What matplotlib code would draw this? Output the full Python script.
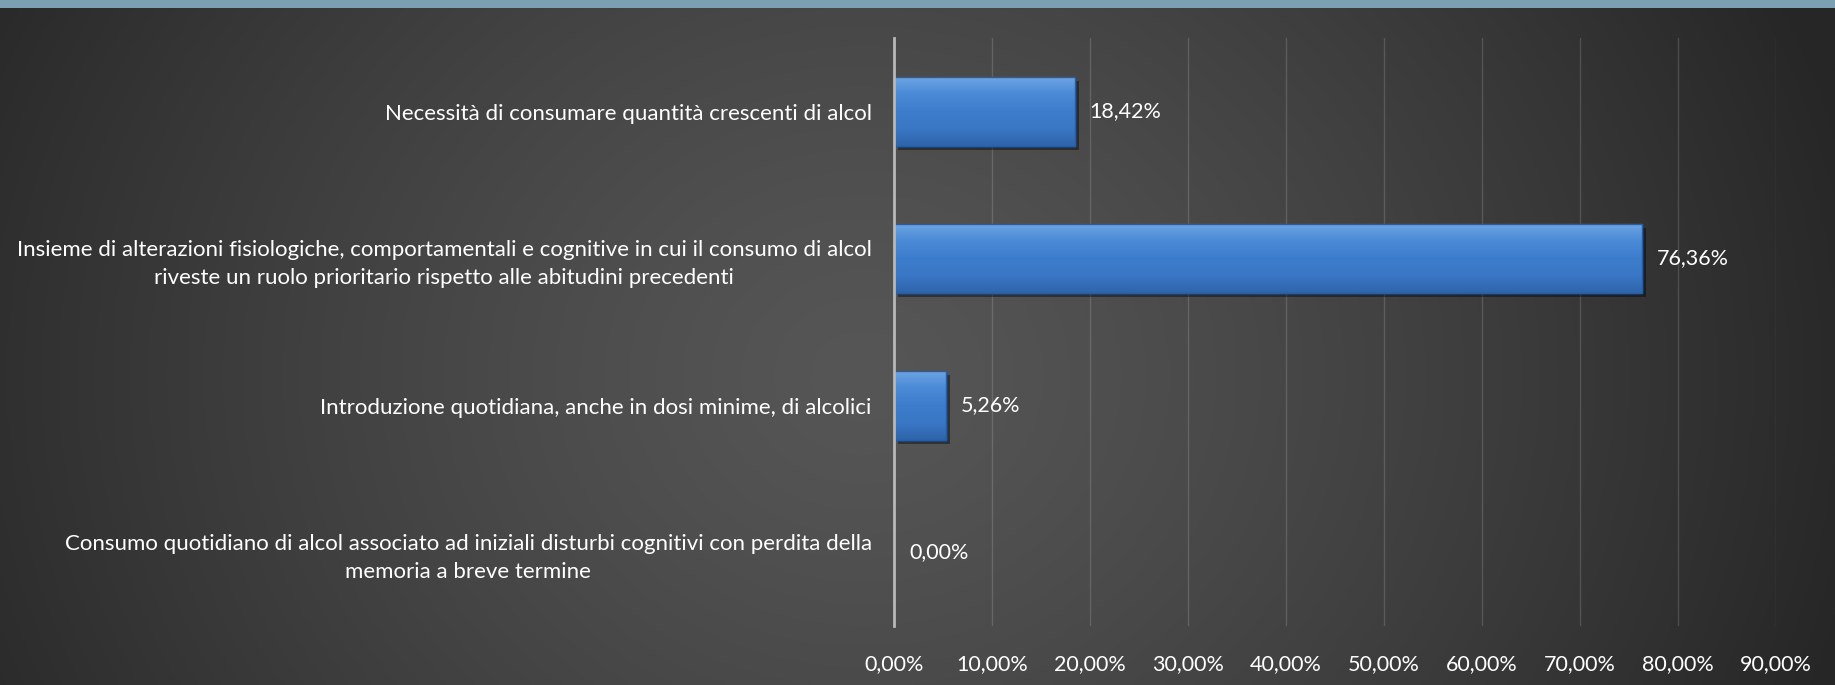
import numpy as np
import matplotlib
matplotlib.use("Agg")
import matplotlib.pyplot as plt
from matplotlib import patheffects as pe
from matplotlib.colors import LinearSegmentedColormap

categories = [
    "Necessità di consumare quantità crescenti di alcol",
    "Insieme di alterazioni fisiologiche, comportamentali e cognitive in cui il consumo di alcol\nriveste un ruolo prioritario rispetto alle abitudini precedenti",
    "Introduzione quotidiana, anche in dosi minime, di alcolici",
    "Consumo quotidiano di alcol associato ad iniziali disturbi cognitivi con perdita della\nmemoria a breve termine",
]
values = [0.1842, 0.7636, 0.0526, 0.0]
value_labels = ["18,42%", "76,36%", "5,26%", "0,00%"]
xticks = [0.0, 0.1, 0.2, 0.3, 0.4, 0.5, 0.6, 0.7, 0.8, 0.9]
xtick_labels = ["0,00%", "10,00%", "20,00%", "30,00%", "40,00%", "50,00%",
                "60,00%", "70,00%", "80,00%", "90,00%"]

W, H, DPI = 1835, 685, 100
fig = plt.figure(figsize=(W / DPI, H / DPI), dpi=DPI)
plt.rcParams['font.family'] = ['Lato', 'DejaVu Sans']

# background gradient
bg = fig.add_axes([0, 0, 1, 1], zorder=-10)
yy, xx = np.mgrid[0:1:300j, 0:1:800j]
r = np.sqrt(((xx - 0.47) / 0.55) ** 2 + ((yy - 0.45) / 1.3) ** 2)
v = np.clip(0x56 - (0x56 - 0x27) * r ** 1.3, 0x26, 0x56) / 255.0
img = np.dstack([v, v, v])
bg.imshow(img, extent=[0, 1, 0, 1], aspect='auto', origin='lower')
# top strip
bg.add_patch(plt.Rectangle((0, 1 - 8 / H), 1, 8 / H, color='#7ba0b1', lw=0))
bg.set_xlim(0, 1); bg.set_ylim(0, 1)
bg.axis('off')

ax = fig.add_axes([894 / W, 1 - 626 / H, (1776 - 894) / W, (626 - 38) / H])
ax.patch.set_alpha(0)
y = np.arange(len(categories))
bars = ax.barh(y, values, height=0.47, color='#3a78c6', edgecolor='#2b5c9c',
               linewidth=1, zorder=3)
ax.set_ylim(len(categories) - 0.5, -0.5)
ax.set_xlim(0, 0.9)

cmap = LinearSegmentedColormap.from_list(
    'b', ['#6ea6e6', '#4a8ad6', '#3d7dcc', '#3a77c5', '#2f64aa'])
grad = np.linspace(0, 1, 100).reshape(-1, 1)
for b in bars:
    b.set_path_effects([pe.SimplePatchShadow(offset=(3, -3), alpha=0.4,
                                             shadow_rgbFace='black'), pe.Normal()])
    if b.get_width() > 0:
        x0, y0 = b.get_x(), b.get_y()
        w, h = b.get_width(), b.get_height()
        im = ax.imshow(grad, extent=[x0, x0 + w, y0 + h, y0], aspect='auto',
                       cmap=cmap, zorder=4, origin='upper')
        im.set_clip_path(b)
        ax.add_patch(plt.Rectangle((x0, y0), w, h, fill=False,
                                   edgecolor='#2b5c9c', lw=1, zorder=5))

ax.set_xlim(0, 0.9)
ax.set_ylim(len(categories) - 0.5, -0.5)

for yi, val, lab in zip(y, values, value_labels):
    ax.annotate(lab, (val, yi), xytext=(15, 0), textcoords='offset pixels',
                va='center', ha='left', color='white', fontsize=15.5, zorder=6)

ax.set_xticks(xticks)
ax.set_xticklabels(xtick_labels, color='white', fontsize=15.5)
ax.set_yticks(y)
ax.set_yticklabels(categories, color='white', fontsize=16, multialignment='center',
                   linespacing=1.5)
ax.tick_params(axis='both', length=0)
ax.tick_params(axis='y', pad=16)
ax.tick_params(axis='x', pad=20)
ax.grid(axis='x', color='#ffffff', alpha=0.15, lw=1, zorder=0)
ax.set_axisbelow(True)
for s in ['top', 'right', 'bottom']:
    ax.spines[s].set_visible(False)
ax.spines['left'].set_color('#b8b8b8')
ax.spines['left'].set_linewidth(2)
ax.spines['left'].set_zorder(7)

fig.savefig('out.png', dpi=DPI)
